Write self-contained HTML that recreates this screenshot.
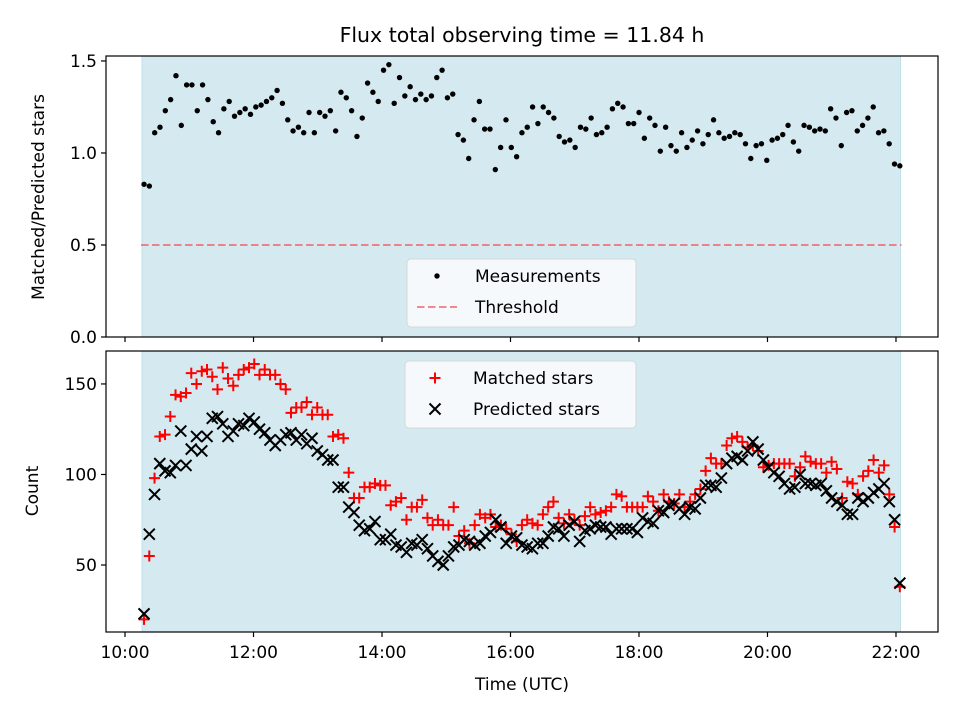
<!DOCTYPE html>
<html><head><meta charset="utf-8"><style>
body{margin:0;background:#fff}
svg{display:block;font-family:"DejaVu Sans","Liberation Sans",sans-serif}
</style></head><body>
<svg id="chart" width="960" height="720" viewBox="0 0 960 720" xmlns="http://www.w3.org/2000/svg">
<text x="522" y="42" font-size="20.5" text-anchor="middle">Flux total observing time = 11.84 h</text>
<g id="top"></g><g id="bot"></g>
<text transform="translate(44,197) rotate(-90)" font-size="17" text-anchor="middle">Matched/Predicted stars</text>
<text transform="translate(38,491) rotate(-90)" font-size="17" text-anchor="middle">Count</text>
<text x="522" y="690" font-size="17" text-anchor="middle">Time (UTC)</text>
</svg>
<script>
const tStart = 10.296, tEnd = 22.06;
const ratio = [0.83,0.82,1.11,1.14,1.23,1.29,1.42,1.15,1.37,1.37,1.23,1.37,1.29,1.17,1.11,1.24,1.28,1.20,1.22,1.24,1.21,1.25,1.26,1.28,1.30,1.34,1.27,1.18,1.12,1.14,1.11,1.22,1.11,1.22,1.20,1.23,1.12,1.33,1.30,1.23,1.09,1.19,1.38,1.33,1.28,1.45,1.48,1.27,1.41,1.31,1.36,1.29,1.32,1.29,1.31,1.41,1.45,1.30,1.32,1.10,1.07,0.97,1.18,1.28,1.13,1.13,0.91,1.03,1.18,1.03,0.98,1.11,1.14,1.25,1.16,1.25,1.22,1.19,1.09,1.06,1.07,1.03,1.14,1.13,1.19,1.10,1.11,1.14,1.24,1.27,1.25,1.16,1.16,1.22,1.08,1.19,1.15,1.01,1.14,1.04,1.01,1.11,1.03,1.07,1.12,1.05,1.10,1.18,1.11,1.08,1.09,1.11,1.10,1.05,0.97,1.04,1.05,0.96,1.07,1.08,1.10,1.15,1.06,1.01,1.15,1.14,1.12,1.13,1.12,1.24,1.19,1.04,1.22,1.23,1.12,1.15,1.19,1.25,1.11,1.12,1.05,0.94,0.93];
const matched = [20,55,98,121,122,132,144,143,145,156,150,157,158,154,147,159,153,149,155,158,159,161,155,158,155,155,150,147,134,137,137,140,133,137,133,133,121,122,120,101,87,87,93,93,95,94,94,83,85,87,75,82,82,86,76,72,75,72,72,82,66,69,62,72,78,76,78,71,72,70,67,63,72,75,73,72,78,82,85,76,73,78,75,72,77,82,78,79,80,82,89,88,82,82,82,82,88,85,80,89,85,84,89,82,85,89,92,102,109,106,106,116,120,121,118,115,116,113,104,105,106,106,106,106,99,104,110,107,106,106,101,107,103,87,96,95,89,99,102,108,101,105,89,71,38];
const predicted = [23,67,89,106,102,101,105,124,105,114,121,113,121,131,132,128,121,124,128,127,131,129,125,123,119,116,119,122,123,119,122,117,120,113,111,108,108,93,93,82,79,72,69,70,74,64,64,67,61,60,57,62,61,64,59,55,52,50,55,60,61,64,63,61,62,66,68,75,71,62,66,65,61,60,59,62,62,66,71,70,66,72,74,63,69,70,72,71,71,67,70,70,70,70,68,76,74,73,80,79,83,84,81,78,82,81,87,94,94,93,98,106,109,110,108,113,118,114,108,104,101,99,95,92,93,100,95,95,94,95,91,87,85,83,78,78,87,85,87,90,92,95,85,75,40];
const xTicks = [10,12,14,16,18,20,22];
const xTickLabels = ["10:00","12:00","14:00","16:00","18:00","20:00","22:00"];
const topTicks = [0,0.5,1.0,1.5];
const topTickLabels = ["0.0","0.5","1.0","1.5"];
const botTicks = [50,100,150];
const botTickLabels = ["50","100","150"];
const threshold = 0.5;
const spanStart = 10.265, spanEnd = 22.07;

const NS="http://www.w3.org/2000/svg";
const L=106,R=938;
const X=t=>L+(t-9.704)/(22.654-9.704)*(R-L);
const Ytop=v=>337-v/1.527*(337-56);
const Ybot=v=>632-(v-13)/(168.2-13)*(632-351);
function mk(parent,tag,attrs){const e=document.createElementNS(NS,tag);for(const k in attrs)e.setAttribute(k,attrs[k]);parent.appendChild(e);return e;}
const timeAt=(i,n)=>tStart+i*(tEnd-tStart)/(n-1);

function axes(g,top,bottom,Y,ticks,labels,showX,name){
  const bg=mk(g,'rect',{x:X(spanStart),y:top,width:X(spanEnd)-X(spanStart),height:bottom-top,fill:'#d4eaf0',stroke:'#bfdfe9'});
  
  
  ticks.forEach((v,i)=>{
    const tk=mk(g,'line',{x1:L-5,x2:L,y1:Y(v),y2:Y(v),stroke:'#000','stroke-width':1.2});
    
    
    const tx=mk(g,'text',{x:L-9,y:Y(v)+6,'font-size':17,'text-anchor':'end'});
    tx.textContent=labels[i];
    
    
  });
  xTicks.forEach((t,i)=>{
    const tk=mk(g,'line',{x1:X(t),x2:X(t),y1:bottom,y2:bottom+5,stroke:'#000','stroke-width':1.2});
    
    
    if(showX){
      const tx=mk(g,'text',{x:X(t),y:bottom+26,'font-size':17,'text-anchor':'middle'});
      tx.textContent=xTickLabels[i];
      
      
    }
  });
}
function frame(g,top,bottom,name){
  const f=mk(g,'rect',{x:L,y:top,width:R-L,height:bottom-top,fill:'none',stroke:'#000','stroke-width':1.2});
  
  
}
function plus(g,x,y,c){return mk(g,'path',{d:`M${x-5.5} ${y}H${x+5.5}M${x} ${y-5.5}V${y+5.5}`,stroke:c,'stroke-width':2,fill:'none'});}
function cross(g,x,y,c){return mk(g,'path',{d:`M${x-5.5} ${y-5.5}L${x+5.5} ${y+5.5}M${x-5.5} ${y+5.5}L${x+5.5} ${y-5.5}`,stroke:c,'stroke-width':2,fill:'none'});}
function legend(g,x,y,w,h,items,name){
  const b=mk(g,'rect',{x,y,width:w,height:h,rx:4,fill:'#f5f9fc',stroke:'#d6d6d6'});
  
  
  items.forEach((it,i)=>{
    const cy=y+17+i*31;
    const m=it.m(g,x+30,cy);
    
    
    const t=mk(g,'text',{x:x+68,y:cy+6,'font-size':17});
    t.textContent=it.label;
    
    
  });
}

const gt=document.getElementById('top');
axes(gt,56,337,Ytop,topTicks,topTickLabels,false,'ratio');
const th=mk(gt,'line',{x1:X(spanStart)-1,x2:X(spanEnd)+1,y1:Ytop(threshold),y2:Ytop(threshold),stroke:'#ea8389','stroke-width':2,'stroke-dasharray':'7.5,3.5'});


ratio.forEach((v,i)=>{
  const c=mk(gt,'circle',{cx:X(timeAt(i,ratio.length)),cy:Ytop(v),r:2.7,fill:'#000'});
  
  
});
frame(gt,56,337,'ratio');
legend(gt,407,259,229,68,[
  {key:'measurements',label:'Measurements',m:(g,x,y)=>mk(g,'circle',{cx:x,cy:y,r:2.7,fill:'#000'})},
  {key:'threshold',label:'Threshold',m:(g,x,y)=>mk(g,'line',{x1:x-20,x2:x+20,y1:y,y2:y,stroke:'#f08a90','stroke-width':2,'stroke-dasharray':'7.5,3.5'})}
],'ratio-legend');

const gb=document.getElementById('bot');
axes(gb,351,632,Ybot,botTicks,botTickLabels,true,'count');
matched.forEach((v,i)=>{
  const p=plus(gb,X(timeAt(i,matched.length)),Ybot(v),'#ff0000');
  
  
});
predicted.forEach((v,i)=>{
  const p=cross(gb,X(timeAt(i,predicted.length)),Ybot(v),'#000');
  
  
});
frame(gb,351,632,'count');
legend(gb,405,361,231,67,[
  {key:'matched',label:'Matched stars',m:(g,x,y)=>plus(g,x,y,'#ff0000')},
  {key:'predicted',label:'Predicted stars',m:(g,x,y)=>cross(g,x,y,'#000')}
],'count-legend');
</script>
</body></html>
